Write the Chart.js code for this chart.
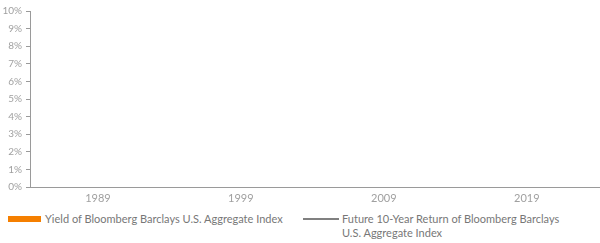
<!DOCTYPE html>
<html>
<head>
<meta charset="utf-8">
<script src="https://cdn.jsdelivr.net/npm/chart.js@4"></script>
<style>
  html, body { margin: 0; padding: 0; background: #fff; }
  body { width: 600px; height: 243px; position: relative; overflow: hidden; font-family: Lato, "Open Sans", sans-serif; }
  #wrap { position: absolute; left: 0; top: 0; width: 600px; height: 210px; }
  .leg { position: absolute; font-size: 11px; color: #777; line-height: 14px; }
  .sw-bar { position: absolute; left: 8px; top: 216px; width: 33px; height: 6px; background: #f57f00; }
  .sw-line { position: absolute; left: 303px; top: 218px; width: 36px; height: 2px; background: #808080; }
</style>
</head>
<body>
<div id="wrap"><canvas id="c"></canvas></div>
<div class="sw-bar" id="sw1"></div>
<div class="leg" id="lg1" style="left:45px; top:212px;"></div>
<div class="sw-line" id="sw2"></div>
<div class="leg" id="lg2" style="left:342px; top:212px; width:240px;"></div>
<script>
// Data (the reference shows no drawn values)
const years = [];
const yieldValues = [];
const futureReturnValues = [];
const xTickYears = [1989, 1999, 2009, 2019];
const yTickValues = [0, 1, 2, 3, 4, 5, 6, 7, 8, 9, 10];
const seriesNames = ["Yield of Bloomberg Barclays U.S. Aggregate Index", "Future 10-Year Return of Bloomberg Barclays U.S. Aggregate Index"];

document.getElementById('lg1').textContent = seriesNames[0];
document.getElementById('lg2').innerHTML = "Future 10-Year Return of Bloomberg Barclays<br>U.S. Aggregate Index";

const axisColor = '#9a9a9a';
const tickColor = '#a0a0a0';

new Chart(document.getElementById('c'), {
  data: {
    datasets: [
      { type: 'bar', label: seriesNames[0], data: years.map((y, i) => ({x: y, y: yieldValues[i]})), backgroundColor: '#f57f00' },
      { type: 'line', label: seriesNames[1], data: years.map((y, i) => ({x: y, y: futureReturnValues[i]})), borderColor: '#808080', borderWidth: 2, pointRadius: 0 }
    ]
  },
  options: {
    responsive: true,
    maintainAspectRatio: false,
    animation: false,
    layout: { padding: { top: 11, right: 1, left: 0, bottom: 0 } },
    plugins: { legend: { display: false }, tooltip: { enabled: false } },
    scales: {
      x: {
        type: 'linear',
        offset: false,
        min: 1984.25,
        max: 2024.05,
        afterBuildTicks: (s) => { s.ticks = xTickYears.map(v => ({ value: v })); },
        afterFit: (s) => { s.height = 23; },
        grid: { display: false, drawTicks: false },
        border: { display: true, color: axisColor, width: 1 },
        ticks: { color: tickColor, font: { family: 'Lato', size: 11 }, padding: 5, maxRotation: 0, autoSkip: false, callback: (v) => String(v) }
      },
      y: {
        min: 0,
        max: 10,
        afterBuildTicks: (s) => { s.ticks = yTickValues.map(v => ({ value: v })); },
        afterFit: (s) => { s.width = 30; },
        grid: { display: true, drawOnChartArea: false, drawTicks: true, tickLength: 4, color: axisColor },
        border: { display: true, color: axisColor, width: 1 },
        ticks: { color: tickColor, font: { family: 'Lato', size: 10 }, padding: 4, callback: (v) => v + '%' }
      }
    }
  }
});
</script>
</body>
</html>
